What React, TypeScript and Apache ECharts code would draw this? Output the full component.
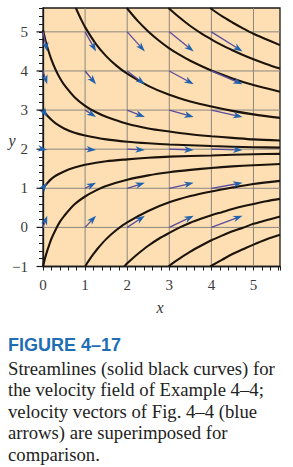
import React, { useEffect, useRef } from "react";
import * as echarts from "echarts";

// Axis ticks (integer labels)
const X_TICKS = [0, 1, 2, 3, 4, 5];
const Y_TICKS = [-1, 0, 1, 2, 3, 4, 5];
const X_MIN = 0;
const X_MAX = 5.63;
const Y_MIN = -1;
const Y_MAX = 5.61;

// Streamlines: [x, y]
const SL_A = [[3.97, 5.61], [4.25, 5.40], [4.5, 5.24], [4.75, 5.09], [5.0, 4.95], [5.3, 4.81], [5.63, 4.66]];
const SL_B = [[2.98, 5.61], [3.25, 5.36], [3.5, 5.15], [3.75, 4.97], [4.0, 4.81], [4.25, 4.66], [4.5, 4.53], [4.75, 4.41], [5.0, 4.30], [5.3, 4.18], [5.63, 4.06]];
const SL_C = [[1.99, 5.61], [2.25, 5.28], [2.5, 5.01], [2.75, 4.78], [3.0, 4.58], [3.25, 4.41], [3.5, 4.26], [4.0, 4.01], [4.5, 3.81], [5.0, 3.64], [5.63, 3.47]];
const SL_D = [[0.78, 5.61], [0.9, 5.33], [1.0, 5.12], [1.25, 4.70], [1.5, 4.38], [1.75, 4.13], [2.0, 3.93], [2.5, 3.62], [3.0, 3.39], [3.5, 3.22], [4.0, 3.09], [4.5, 2.98], [5.0, 2.89], [5.63, 2.80]];
const SL_E = [[0, 5.05], [0.05, 4.82], [0.1, 4.62], [0.2, 4.29], [0.3, 4.03], [0.4, 3.82], [0.5, 3.65], [0.75, 3.33], [1.0, 3.11], [1.25, 2.95], [1.5, 2.83], [2.0, 2.65], [2.5, 2.53], [3.0, 2.45], [3.5, 2.38], [4.0, 2.33], [4.5, 2.29], [5.0, 2.25], [5.63, 2.22]];
const SL_F = [[0, 3.01], [0.05, 2.93], [0.1, 2.86], [0.2, 2.75], [0.3, 2.66], [0.5, 2.53], [0.75, 2.42], [1.0, 2.35], [1.5, 2.25], [2.0, 2.19], [2.5, 2.15], [3.0, 2.12], [4.0, 2.08], [5.0, 2.05], [5.63, 2.04]];
const SL_G = [[0, 1.0], [0.05, 1.07], [0.1, 1.13], [0.2, 1.24], [0.3, 1.32], [0.5, 1.43], [0.75, 1.53], [1.0, 1.60], [1.5, 1.69], [2.0, 1.74], [2.5, 1.78], [3.0, 1.81], [4.0, 1.84], [5.0, 1.87], [5.63, 1.88]];
const SL_H = [[0, -1.0], [0.05, -0.78], [0.1, -0.60], [0.15, -0.44], [0.2, -0.29], [0.3, -0.06], [0.4, 0.14], [0.5, 0.29], [0.75, 0.59], [1.0, 0.79], [1.25, 0.94], [1.5, 1.06], [2.0, 1.22], [2.5, 1.33], [3.0, 1.41], [3.5, 1.47], [4.0, 1.52], [4.5, 1.56], [5.0, 1.59], [5.63, 1.62]];
const SL_I = [[1.0, -1.0], [1.05, -0.91], [1.1, -0.83], [1.2, -0.68], [1.3, -0.54], [1.5, -0.30], [1.75, -0.06], [2.0, 0.13], [2.5, 0.42], [3.0, 0.64], [3.5, 0.80], [4.0, 0.92], [4.5, 1.02], [5.0, 1.11], [5.63, 1.19]];
const SL_J = [[1.93, -1.0], [2.0, -0.92], [2.1, -0.82], [2.25, -0.68], [2.5, -0.47], [2.75, -0.29], [3.0, -0.14], [3.25, 0.0], [3.5, 0.12], [3.75, 0.22], [4.0, 0.31], [4.25, 0.39], [4.5, 0.47], [4.75, 0.54], [5.0, 0.60], [5.3, 0.67], [5.63, 0.73]];
const SL_K = [[2.98, -1.0], [3.1, -0.90], [3.25, -0.79], [3.5, -0.62], [3.75, -0.47], [4.0, -0.33], [4.25, -0.21], [4.5, -0.10], [4.75, -0.01], [5.0, 0.09], [5.3, 0.18], [5.63, 0.28]];
const SL_L = [[3.97, -1.0], [4.1, -0.92], [4.25, -0.83], [4.5, -0.68], [4.75, -0.56], [5.0, -0.44], [5.3, -0.31], [5.63, -0.19]];
const STREAMLINES = [SL_A, SL_B, SL_C, SL_D, SL_E, SL_F, SL_G, SL_H, SL_I, SL_J, SL_K, SL_L];

// Velocity vectors (blue arrows): origins and components
const ARROW_X = [0, 1, 2, 3, 4];
const ARROW_Y = [0, 1, 2, 3, 4, 5];
const ARROW_DX = [0.10, 0.26, 0.42, 0.58, 0.74]; // per column
const ARROW_DY = [0.30, 0.14, -0.02, -0.18, -0.34, -0.50]; // per row

// Caption
const CAPTION_TITLE = "FIGURE 4\u201317";
const CAPTION_LINES = [
  "Streamlines (solid black curves) for",
  "the velocity field of Example 4\u20134;",
  "velocity vectors of Fig. 4\u20134 (blue",
  "arrows) are superimposed for",
  "comparison.",
];

const GRID = { left: 43, top: 8, width: 237, height: 258.5 };

export default function App() {
  const ref = useRef<HTMLDivElement>(null);

  useEffect(() => {
    if (!ref.current) return;
    const chart = echarts.init(ref.current, undefined, { renderer: "svg" });

    const arrowData: number[][] = [];
    ARROW_X.forEach((x, i) => {
      ARROW_Y.forEach((y, j) => {
        arrowData.push([x, y, ARROW_DX[i], ARROW_DY[j]]);
      });
    });

    const gridData: number[][] = [
      ...X_TICKS.filter((v) => v > X_MIN).map((v) => [0, v]),
      ...Y_TICKS.filter((v) => v > Y_MIN).map((v) => [1, v]),
    ];

    const isInt = (v: number) => Math.abs(v - Math.round(v)) < 1e-6;
    const fmt = (v: number) => {
      if (!isInt(v)) return "";
      const r = Math.round(v);
      return r < 0 ? "\u2212" + Math.abs(r) : String(r);
    };

    const axisCommon = {
      type: "value" as const,
      interval: 0.2,
      axisLine: { show: true, onZero: false, lineStyle: { color: "#1a1a1a", width: 1.3 } },
      axisTick: { show: true, inside: false, length: 4, lineStyle: { color: "#1a1a1a", width: 1 } },
      splitLine: { show: false },
      axisLabel: {
        formatter: fmt,
        fontFamily: "Liberation Serif",
        fontSize: 15,
        color: "#3a3a3a",
      },
    };

    const streamSeries = STREAMLINES.map((pts, k) => ({
      type: "line",
      name: "s" + k,
      data: pts,
      smooth: 0.3,
      showSymbol: false,
      symbol: "none",
      clip: true,
      z: 3,
      lineStyle: { color: "#1c140c", width: 2.1 },
      silent: true,
    }));

    const option: any = {
      animation: false,
      grid: {
        ...GRID,
        show: true,
        backgroundColor: "#FDDFB3",
        borderColor: "#1a1a1a",
        borderWidth: 1.3,
      },
      xAxis: {
        ...axisCommon,
        min: X_MIN,
        max: X_MAX,
        axisLabel: { ...axisCommon.axisLabel, margin: 11 },
      },
      yAxis: {
        ...axisCommon,
        min: Y_MIN,
        max: Y_MAX,
        axisLabel: { ...axisCommon.axisLabel, margin: 15 },
      },
      series: [
        {
          // integer grid lines
          type: "custom",
          z: 1,
          silent: true,
          clip: true,
          data: gridData,
          renderItem: (_p: any, api: any) => {
            const kind = api.value(0);
            const v = api.value(1);
            let a, b;
            if (kind === 0) {
              a = api.coord([v, Y_MIN]);
              b = api.coord([v, Y_MAX]);
            } else {
              a = api.coord([X_MIN, v]);
              b = api.coord([X_MAX, v]);
            }
            return {
              type: "line",
              shape: { x1: a[0], y1: a[1], x2: b[0], y2: b[1] },
              style: { stroke: "#8c8780", lineWidth: 1 },
            };
          },
        },
        {
          // longer major ticks on the y axis
          type: "custom",
          z: 2,
          silent: true,
          clip: false,
          data: Y_TICKS.map((v) => [X_MIN, v]),
          renderItem: (_p: any, api: any) => {
            const c = api.coord([api.value(0), api.value(1)]);
            return {
              type: "line",
              shape: { x1: c[0] - 6.5, y1: c[1], x2: c[0], y2: c[1] },
              style: { stroke: "#1a1a1a", lineWidth: 1.2 },
            };
          },
        },
        ...streamSeries,
        {
          type: "custom",
          z: 5,
          silent: true,
          clip: false,
          data: arrowData,
          renderItem: (_p: any, api: any) => {
            const x = api.value(0);
            const y = api.value(1);
            const dx = api.value(2);
            const dy = api.value(3);
            const p0 = api.coord([x, y]);
            const p1 = api.coord([x + dx, y + dy]);
            const vx = p1[0] - p0[0];
            const vy = p1[1] - p0[1];
            const len = Math.hypot(vx, vy) || 1;
            const ux = vx / len;
            const uy = vy / len;
            const nx = -uy;
            const ny = ux;
            const H = 9.5;
            const W = 3.3;
            const bx = p1[0] - ux * H;
            const by = p1[1] - uy * H;
            const mx = p1[0] - ux * H * 0.72;
            const my = p1[1] - uy * H * 0.72;
            const children: any[] = [];
            if (len > H * 0.72) {
              children.push({
                type: "line",
                shape: { x1: p0[0], y1: p0[1], x2: mx, y2: my },
                style: { stroke: "#5a4c9c", lineWidth: 1.3 },
              });
            }
            children.push({
              type: "polygon",
              shape: {
                points: [
                  [p1[0], p1[1]],
                  [bx + nx * W, by + ny * W],
                  [mx, my],
                  [bx - nx * W, by - ny * W],
                ],
              },
              style: { fill: "#1f62ad" },
            });
            return { type: "group", children };
          },
        },
      ],
      graphic: [
        {
          type: "text",
          x: 12,
          y: 140,
          style: {
            text: "y",
            font: "italic 16px 'Liberation Serif'",
            fill: "#333",
            align: "center",
            verticalAlign: "middle",
            textAlign: "center",
            textVerticalAlign: "middle",
          },
        },
        {
          type: "text",
          x: 160,
          y: 307,
          style: {
            text: "x",
            font: "italic 16px 'Liberation Serif'",
            fill: "#333",
            align: "center",
            verticalAlign: "middle",
            textAlign: "center",
            textVerticalAlign: "middle",
          },
        },
        {
          type: "text",
          x: 8,
          y: 345,
          style: {
            text: CAPTION_TITLE,
            font: "bold 18px 'Liberation Sans'",
            fill: "#1f6db5",
            align: "left",
            verticalAlign: "middle",
            textAlign: "left",
            textVerticalAlign: "middle",
          },
        },
        ...CAPTION_LINES.map((t, i) => ({
          type: "text",
          x: 8,
          y: 368.5 + i * 21.4,
          style: {
            text: t,
            font: "18.7px 'Liberation Serif'",
            fill: "#222",
            align: "left",
            verticalAlign: "middle",
            textAlign: "left",
            textVerticalAlign: "middle",
          },
        })),
      ],
    };

    chart.setOption(option);
    return () => chart.dispose();
  }, []);

  return (
    <div
      ref={ref}
      style={{ position: "fixed", left: 0, top: 0, width: 293, height: 467, background: "#fff" }}
    />
  );
}
